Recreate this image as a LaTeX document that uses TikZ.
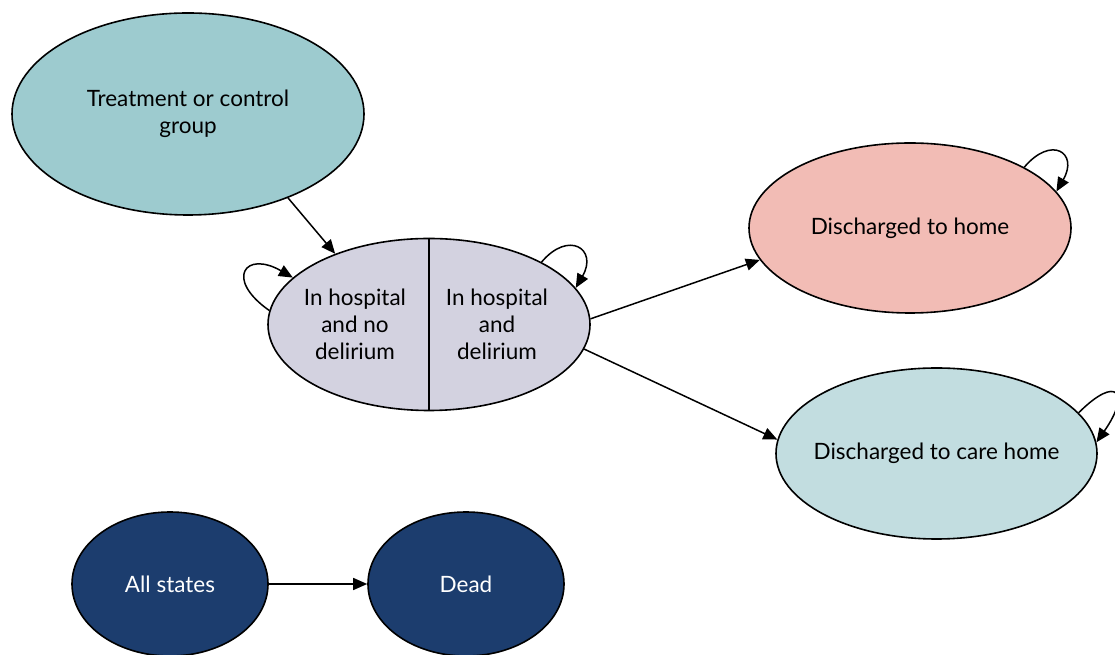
\documentclass[tikz,border=0pt]{standalone}
\usepackage{fontspec}
\setmainfont{Lato}
\usetikzlibrary{shapes.geometric,arrows.meta}
\definecolor{treatfill}{HTML}{9DCBCF}
\definecolor{hospfill}{HTML}{D3D2E0}
\definecolor{homefill}{HTML}{F2BCB5}
\definecolor{carefill}{HTML}{C2DDE0}
\definecolor{deadfill}{HTML}{1C3D6E}
\begin{document}
\begin{tikzpicture}[x=1pt,y=1pt,
    state/.style={ellipse,draw,line width=1.6pt,inner sep=0pt,align=center,
      font=\fontsize{22.5}{27}\selectfont},
    statetext/.style={align=center,font=\fontsize{22.5}{27}\selectfont},
    arr/.style={line width=1.5pt,-{Triangle[length=14pt,width=12pt]}}]
      \useasboundingbox (0,0) rectangle (1115,655);

      \node[state,fill=treatfill,minimum width=352,minimum height=202] (treat) at (188,541) {Treatment or control\\group};
      \node[state,fill=hospfill,minimum width=322,minimum height=172] (hosp) at (429,330.5) {};
      \draw[line width=1.6pt] (hosp.north) -- (hosp.south);
      \node[statetext] (hospno) at (355,331) {In hospital\\and no\\delirium};
      \node[statetext] (hospdel) at (497,331) {In hospital\\and\\delirium};
      \node[state,fill=homefill,minimum width=322,minimum height=170] (home) at (910,427) {Discharged to home};
      \node[state,fill=carefill,minimum width=321,minimum height=171] (care) at (936.5,201.5) {};
      \node[statetext] (caretext) at (care) {Discharged to care home};
      \node[state,fill=deadfill,text=white,minimum width=196,minimum height=144] (all) at (170,71) {All states};
      \node[state,fill=deadfill,text=white,minimum width=196,minimum height=144] (dead) at (466,71) {Dead};

      \draw[arr] (treat.320) -- (hosp.143.6);
      \draw[arr] (hosp.2) -- (home.192.6);
      \draw[arr] (hosp.351) -- (care.175);
      \draw[arr] (all) -- (dead);

      % loops back to the same state
      \draw[arr] (hosp.175) .. controls +(145:55) and +(150:55) .. (hosp.161);
      \draw[arr] (hosp.29) .. controls +(50:42) and +(60:45) .. (hosp.14);
      \draw[arr] (home.28) .. controls +(50:42) and +(60:45) .. (home.14);
      \draw[arr] (care.16) .. controls +(45:55) and +(55:60) .. (care.4);
    \end{tikzpicture}
\end{document}
